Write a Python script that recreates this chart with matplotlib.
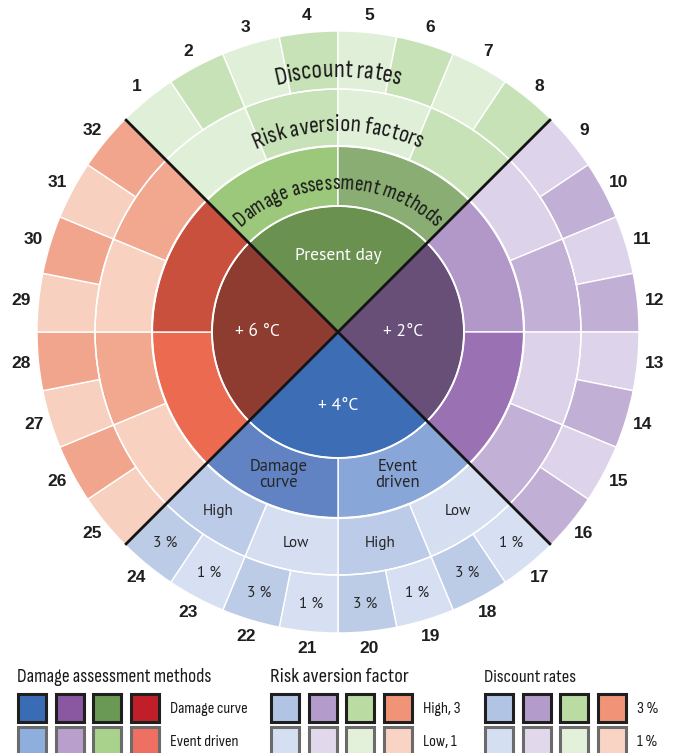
import numpy as np
import matplotlib.pyplot as plt
from matplotlib.patches import Rectangle
from matplotlib import font_manager as fm
from matplotlib.font_manager import FontProperties

# ---- data ----
scenarios = ['Present day', '+ 2°C', '+ 4°C', '+ 6 °C']   # clockwise from the top
centre_colors = ['#6a914f', '#674f78', '#3d6db5', '#8e3b30']

methods = ['Event driven', 'Damage curve']   # clockwise order inside a quadrant
method_colors = [['#9cc87b', '#89ad72'],
                 ['#b298c8', '#9a71b2'],
                 ['#88a6d8', '#6283c3'],
                 ['#ec6a4f', '#c9503d']]

risk_levels = ['Low', 'High']
risk_colors = [['#e0efd7', '#c8e2b7'],
               ['#dcd2e9', '#c3b0d6'],
               ['#d5dff1', '#bccbe7'],
               ['#f8d1c1', '#f2a78f']]

discount_rates = ['1 %', '3 %']
discount_colors = [['#e0efd7', '#c8e2b7'],
                   ['#ddd3ea', '#c2afd5'],
                   ['#d6e0f2', '#bccbe6'],
                   ['#f8d0c0', '#f2a58d']]

case_numbers = list(range(1, 33))

# bottom quadrant annotations
method_labels = ['Event\ndriven', 'Damage\ncurve']
ring_titles = ['Damage assessment methods', 'Risk aversion factors', 'Discount rates']

# legend
legend_titles = ['Damage assessment methods', 'Risk aversion factor', 'Discount rates']
legend_labels = [['Damage curve', 'Event driven'], ['High, 3', 'Low, 1'], ['3 %', '1 %']]
legend_colors = [
    [['#3a6cb6', '#8a57a1', '#6a9955', '#c01f29'], ['#8eafdd', '#b9a0cc', '#a9d28d', '#ee7062']],
    [['#b2c4e4', '#b39ccb', '#badba1', '#f09377'], ['#d5dff2', '#e1d8ec', '#e3f0da', '#f9d3c4']],
    [['#b2c4e4', '#b39ccb', '#badba1', '#f09377'], ['#d5dff2', '#e1d8ec', '#e3f0da', '#f9d3c4']],
]

# ---- fonts ----
installed = {f.name for f in fm.fontManager.ttflist}


def pick(*names):
    for n in names:
        if n in installed:
            return n
    return 'DejaVu Sans'


narrow = pick('Liberation Sans Narrow', 'Sofia Sans Condensed', 'Barlow Condensed',
              'Roboto Condensed')
label_font = pick('PT Sans', 'Open Sans')
num_font = pick('Liberation Sans', 'Arimo')

DPI = 100
W, H = 676, 753
CX, CY = 338, 332          # centre in pixels from top-left
RMAX = 330
R_CENTRE, R_METHOD, R_RISK, R_DISC = 126, 186, 243, 301

fig = plt.figure(figsize=(W / DPI, H / DPI), dpi=DPI)
ax = fig.add_axes([(CX - RMAX) / W, (H - CY - RMAX) / H, 2 * RMAX / W, 2 * RMAX / H],
                  projection='polar')
ax.set_theta_direction(-1)
ax.set_theta_offset(np.deg2rad(135))
ax.set_ylim(0, RMAX)
ax.axis('off')


def ring(colors, r_in, r_out, lw=1.0):
    n = len(colors)
    w = 2 * np.pi / n
    th = np.arange(n) * w + w / 2
    ax.bar(th, r_out - r_in, width=w, bottom=r_in, color=colors,
           edgecolor='white', linewidth=lw, align='center')
    return th


ring(centre_colors, 0, R_CENTRE, lw=0)
ring([method_colors[q][m] for q in range(4) for m in range(2)], R_CENTRE, R_METHOD)
ring([risk_colors[q][k] for q in range(4) for m in range(2) for k in range(2)], R_METHOD, R_RISK)
th32 = ring([discount_colors[q][d] for q in range(4) for m in range(2) for k in range(2) for d in range(2)],
            R_RISK, R_DISC)

circ = np.linspace(0, 2 * np.pi, 400)
ax.plot(circ, np.full_like(circ, R_CENTRE), color='white', lw=1.4)
ax.plot(circ, np.full_like(circ, R_METHOD), color='white', lw=1.6)
ax.plot(circ, np.full_like(circ, R_RISK), color='white', lw=1.0)

# black quadrant dividers
for a in [0, 90, 180, 270]:
    ax.plot([np.deg2rad(a), np.deg2rad(a)], [0, R_DISC], color='#141414', lw=2.0,
            solid_capstyle='butt')

# case numbers
for th, n in zip(th32, case_numbers):
    ax.text(th, 318, str(n), ha='center', va='center', fontsize=12.5,
            fontweight='bold', family=num_font, color='#1e1e1e')

# centre labels
centre_r = [76, 65, 74, 81]
for q, name in enumerate(scenarios):
    ax.text(np.deg2rad(45 + 90 * q), centre_r[q], name, ha='center', va='center',
            color='white', fontsize=12.5, family=label_font)

# labels inside the +4 °C quadrant
q = 2
for m in range(2):
    th = np.deg2rad(90 * q + 22.5 + 45 * m)
    ax.text(th, 155, method_labels[m], ha='center', va='center', fontsize=12,
            family=label_font, color='#262626', linespacing=1.0)
    for k in range(2):
        th = np.deg2rad(90 * q + 45 * m + 11.25 + 22.5 * k)
        ax.text(th, 215, risk_levels[k], ha='center', va='center', fontsize=11,
                family=label_font, color='#262626')
        for d in range(2):
            th = np.deg2rad(90 * q + 45 * m + 22.5 * k + 5.625 + 11.25 * d)
            ax.text(th, 273, discount_rates[d], ha='center', va='center', fontsize=11,
                    family=label_font, color='#262626')


def metrics(s, family):
    # glyph advances and cap height in px at 10 pt
    fp = FontProperties(family=family, size=10)
    font = fm.get_font(fm.findfont(fp))
    font.set_size(10, DPI)
    adv = np.array([font.load_char(ord(ch)).linearHoriAdvance / 65536 for ch in s])
    cap = font.load_char(ord('H')).height / 64
    return adv, cap


def fit_size(s, width, cap_max):
    adv, cap = metrics(s, narrow)
    return min(10 * width / adv.sum(), 10 * cap_max / cap)


# curved titles in the present-day quadrant
def arc_text(s, r, arc_len, cap_max):
    adv, _ = metrics(s, narrow)
    fs = fit_size(s, arc_len, cap_max)
    adv = adv * fs / 10
    fp = FontProperties(family=narrow, size=fs)
    offs = np.cumsum(adv) - adv / 2 - adv.sum() / 2
    for ch, o in zip(s, offs):
        phi = 90 - np.rad2deg(o / r)
        ax.text(np.deg2rad(135 - phi), r, ch, rotation=phi - 90, rotation_mode='anchor',
                ha='center', va='baseline', fontproperties=fp, color='#1a1a1a')


arc_text(ring_titles[0], 143, 214, 15)
arc_text(ring_titles[1], 201, 170, 17)
arc_text(ring_titles[2], 255, 125, 17)

# ---- legend ----
lax = fig.add_axes([0, 0, 1, 103 / H])
lax.set_xlim(0, W)
lax.set_ylim(H, H - 103)
lax.axis('off')

group_x = [17, 270, 484]
label_x = [170, 423, 637]
title_w = [195, 142, 92]      # measured widths of the legend titles, px
pitch, size = 37.5, 28
row_y = [693, 726]
edge = ['#1f1f1f', '#6b6b6b']
label_fs = fit_size('Damage curve', 78, 12)
for g in range(3):
    fs = fit_size(legend_titles[g], title_w[g], 13.5)
    lax.text(group_x[g], 677, legend_titles[g], ha='left', va='center', fontsize=fs,
             family=narrow, color='#1a1a1a')
    for row in range(2):
        for i, c in enumerate(legend_colors[g][row]):
            lax.add_patch(Rectangle((group_x[g] + 1 + i * pitch, row_y[row] + 1), size, size,
                                    facecolor=c, edgecolor=edge[row], lw=2.2, clip_on=False))
        lax.text(label_x[g], row_y[row] + 16, legend_labels[g][row], ha='left', va='center',
                 fontsize=label_fs, family=narrow, color='#1a1a1a')

fig.savefig('out.png', dpi=DPI)
